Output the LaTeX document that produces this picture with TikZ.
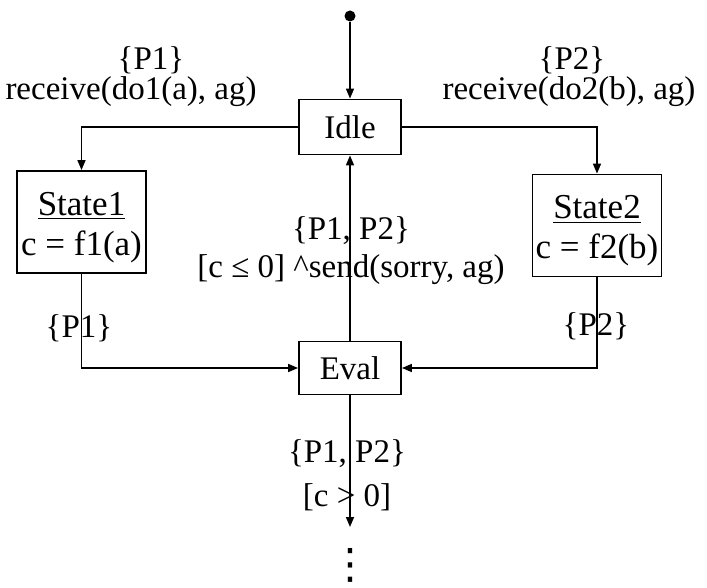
\documentclass[tikz,border=0pt]{standalone}
\usepackage{fontspec}
\setmainfont{Liberation Serif}
\newfontfamily\symfont{DejaVu Sans}
\usetikzlibrary{arrows.meta, positioning}

\begin{document}
\begin{tikzpicture}[
  x=0.5pt, y=-0.5pt,
  font=\fontsize{16.5}{18}\selectfont,
  state/.style={rectangle, draw, line width=0.9pt, inner sep=1pt, align=center},
  bigstate/.style={state, minimum width=64.5pt, minimum height=51pt,
                   font=\fontsize{17.5}{20}\selectfont},
  lbl/.style={align=center, inner sep=0pt},
  arrow/.style={-{Triangle[length=5pt, width=4pt]}, line width=0.75pt}
]
\useasboundingbox (0,0) rectangle (707,588);

\node[circle, fill, inner sep=0pt, minimum size=5.5pt] (init) at (350,16) {};
\node[state, minimum width=51pt, minimum height=27.5pt] (idle) at (350,127) {Idle};
\node[bigstate] (state1) at (81.5,222)
  {\rule{0pt}{17pt}\underline{State1}\\c = f1(a)};
\node[bigstate] (state2) at (597,225.5)
  {\rule{0pt}{17pt}\underline{State2}\\c = f2(b)};
\node[state, minimum width=51pt, minimum height=26.5pt] (eval) at (350,368) {Eval};
\coordinate (next) at (350,527);
\node[lbl, font=\symfont\fontsize{21}{21}\selectfont, text height=12pt, text depth=0pt,
      anchor=base] (dots) at (350,578) {⋮};

% transitions
\draw[arrow] (init) -- (idle);
\draw[arrow] (idle.west) -| (state1.north);
\draw[arrow] (idle.east) -| (state2.north);
\draw[arrow] (state1.south) |- (eval.west);
\draw[arrow] (state2.south) |- (eval.east);
\draw[arrow] (eval) -- (idle);
\draw[arrow] (eval) -- (next);

% guards and actions
\node[lbl] (p1top) at (151,60) {\{P1\}};
\node[lbl] (recv1) at (131,92) {receive(do1(a), ag)};
\node[lbl] (p2top) at (572,60) {\{P2\}};
\node[lbl] (recv2) at (569,92) {receive(do2(b), ag)};
\node[lbl] (sorry) at (351,251) {\{P1, P2\}\\[1pt]{[}c ≤ 0{]} \textasciicircum{}send(sorry, ag)};
\node[lbl] (p1out) at (79,328) {\{P1\}};
\node[lbl] (p2out) at (596,326) {\{P2\}};
\node[lbl] (ok) at (347,475) {\{P1, P2\}\\[4pt]{[}c > 0{]}};

\end{tikzpicture}
\end{document}
